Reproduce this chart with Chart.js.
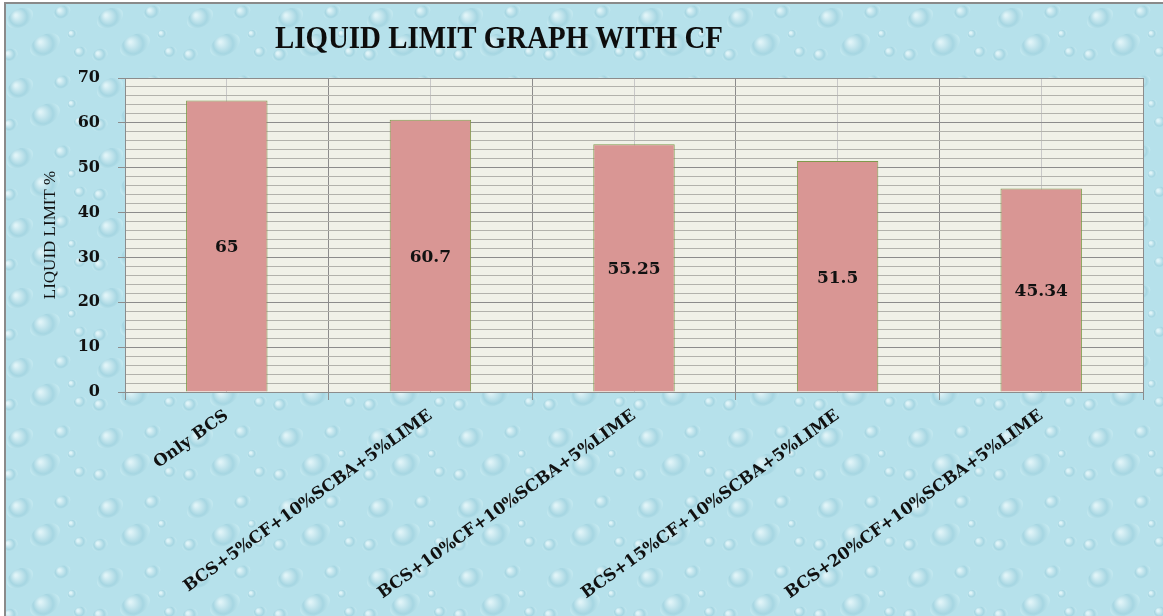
<!DOCTYPE html>
<html>
<head>
<meta charset="utf-8">
<script src="https://cdn.jsdelivr.net/npm/chart.js@4.4.1/dist/chart.umd.min.js"></script>
<style>
  body { margin: 0; background: #ffffff; }
  canvas { display: block; }
</style>
</head>
<body>
<canvas id="graph" width="1163" height="616"></canvas>
<script>
// data
const categories = [
  'Only BCS',
  'BCS+5%CF+10%SCBA+5%LIME',
  'BCS+10%CF+10%SCBA+5%LIME',
  'BCS+15%CF+10%SCBA+5%LIME',
  'BCS+20%CF+10%SCBA+5%LIME'
];
const liquidLimit = [65, 60.7, 55.25, 51.5, 45.34];
const yMin = 0, yMax = 70, yMajor = 10, yMinor = 2;
const titleText = 'LIQUID LIMIT GRAPH WITH CF';
const yTitle = 'LIQUID LIMIT %';

// small tile with some drops to look like the water texture
function dropPattern(ctx) {
  const t = document.createElement('canvas');
  t.width = 90; t.height = 70;
  const c = t.getContext('2d');
  c.fillStyle = '#b6e1eb';
  c.fillRect(0, 0, 90, 70);
  const drops = [[20, 18, 14, 9], [62, 12, 9, 6], [45, 45, 16, 10], [80, 52, 7, 5], [10, 55, 8, 6], [72, 34, 5, 4]];
  drops.forEach(d => {
    const g = c.createRadialGradient(d[0] - d[2] * 0.3, d[1] - d[3] * 0.3, 1, d[0], d[1], d[2]);
    g.addColorStop(0, '#e0f4f8');
    g.addColorStop(0.6, '#a6d6e2');
    g.addColorStop(1, '#c6eaf1');
    c.fillStyle = g;
    c.beginPath();
    c.ellipse(d[0], d[1], d[2], d[3], -0.5, 0, Math.PI * 2);
    c.fill();
  });
  return ctx.createPattern(t, 'repeat');
}

const backdrop = {
  id: 'backdrop',
  beforeDraw(chart) {
    const ctx = chart.ctx, a = chart.chartArea;
    ctx.save();
    ctx.fillStyle = '#ffffff';
    ctx.fillRect(0, 0, chart.width, chart.height);
    ctx.fillStyle = dropPattern(ctx);
    ctx.fillRect(5, 3, chart.width, chart.height);
    // frame of the picture
    ctx.strokeStyle = '#8a8a8a';
    ctx.lineWidth = 2;
    ctx.beginPath();
    ctx.moveTo(5, chart.height);
    ctx.lineTo(5, 3);
    ctx.lineTo(chart.width, 3);
    ctx.stroke();
    // plot area
    ctx.fillStyle = '#f0f1e8';
    ctx.fillRect(a.left, a.top, a.right - a.left, a.bottom - a.top);
    // title
    ctx.font = 'bold 32px "Liberation Serif"';
    ctx.fillStyle = '#0d0d0d';
    ctx.textAlign = 'center';
    ctx.textBaseline = 'alphabetic';
    const w = ctx.measureText(titleText).width;
    ctx.translate(499, 48);
    ctx.scale(448 / w, 1);
    ctx.fillText(titleText, 0, 0);
    ctx.restore();
  }
};

const valueLabels = {
  id: 'valueLabels',
  afterDatasetsDraw(chart) {
    const ctx = chart.ctx;
    ctx.save();
    ctx.font = 'bold 17px "DejaVu Serif"';
    ctx.fillStyle = '#111111';
    ctx.textAlign = 'center';
    ctx.textBaseline = 'middle';
    chart.getDatasetMeta(0).data.forEach((bar, i) => {
      ctx.fillText(String(liquidLimit[i]), bar.x, (bar.y + bar.base) / 2 + 2);
    });
    ctx.restore();
  }
};

new Chart(document.getElementById('graph'), {
  type: 'bar',
  data: {
    labels: categories,
    datasets: [{
      data: liquidLimit,
      backgroundColor: '#d99694',
      borderColor: '#7f9a4c',
      borderWidth: 1,
      barPercentage: 0.4,
      categoryPercentage: 1
    }]
  },
  options: {
    responsive: false,
    animation: false,
    layout: { padding: { left: 6, top: 78, right: 20, bottom: 0 } },
    plugins: { legend: { display: false }, tooltip: { enabled: false } },
    scales: {
      x: {
        grid: { offset: true, color: '#8c8c8c', tickLength: 8 },
        border: { color: '#8c8c8c' },
        ticks: {
          autoSkip: false, minRotation: 35.5, maxRotation: 35.5, padding: 6,
          color: '#111111',
          font: { family: 'DejaVu Serif', weight: 'bold', size: 16.5 }
        },
        afterFit(s) { s.height = 224; }
      },
      xCenter: {
        type: 'category',
        labels: categories,
        position: 'top',
        grid: { offset: false, color: '#c8c8c8', drawTicks: false },
        border: { display: false },
        ticks: { display: false },
        afterFit(s) { s.height = 0; }
      },
      y: {
        min: yMin, max: yMax,
        ticks: {
          stepSize: yMinor, autoSkip: false, padding: 18,
          color: '#111111',
          font: { family: 'DejaVu Serif', weight: 'bold', size: 16 },
          callback: v => (v % yMajor === 0 ? v : '')
        },
        grid: {
          color: c => (c.tick && c.tick.value % yMajor === 0 ? '#8c8c8c' : '#b2b2ac'),
          tickColor: c => (c.tick && c.tick.value % yMajor === 0 ? '#8c8c8c' : 'rgba(0,0,0,0)'),
          tickLength: 7
        },
        border: { color: '#8c8c8c' },
        title: {
          display: true, text: yTitle, color: '#111111',
          font: { family: 'Liberation Serif', size: 17 },
          padding: { top: 34, bottom: 0 }
        },
        afterFit(s) { s.width = 119; }
      }
    }
  },
  plugins: [backdrop, valueLabels]
});
</script>
</body>
</html>
